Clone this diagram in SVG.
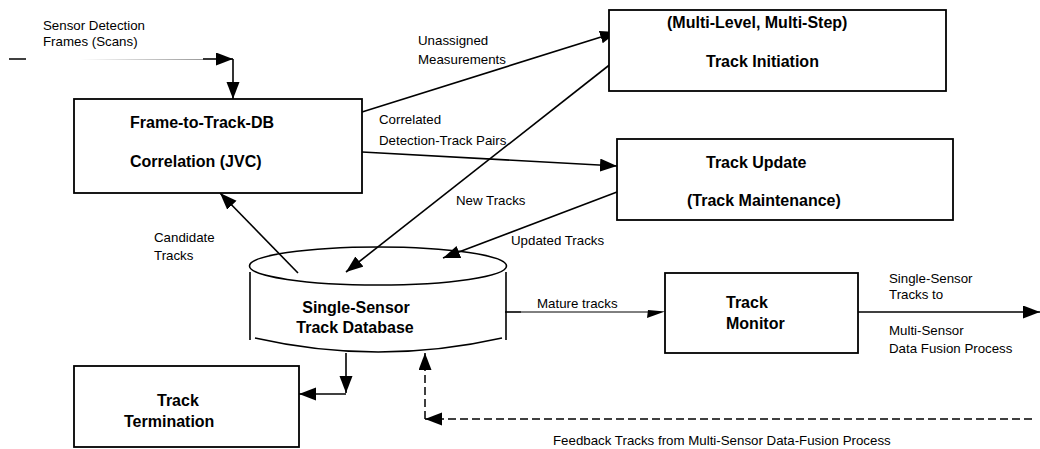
<svg xmlns="http://www.w3.org/2000/svg" width="1040" height="449" viewBox="0 0 1040 449">
  <style>
    .box { fill: #fff; stroke: #000; stroke-width: 1.8; }
    .title { font-family: "Liberation Sans", Arial, sans-serif; font-size: 16px; font-weight: bold; fill: #000; }
    .label { font-family: "Liberation Sans", Arial, sans-serif; font-size: 13.3px; fill: #000; }
    .flow { fill: none; stroke: #000; stroke-width: 1.6; }
    .thin { fill: none; stroke: #000; stroke-width: 1; }
    .dash { fill: none; stroke: #000; stroke-width: 1.5; stroke-dasharray: 8 4; }
  </style>
  <defs>
    <marker id="arrow" markerUnits="userSpaceOnUse" markerWidth="18" markerHeight="14" refX="17" refY="6.5" orient="auto">
      <path d="M0,0 L17,6.5 L0,13 z" fill="#000"/>
    </marker>
    <linearGradient id="fade" gradientUnits="userSpaceOnUse" x1="80" y1="0" x2="204" y2="0">
      <stop offset="0" stop-color="#fff"/>
      <stop offset="1" stop-color="#999"/>
    </linearGradient>
  </defs>

  <rect width="1040" height="449" fill="#fff"/>

  <!-- connectors -->
  <g id="connectors">
    <!-- sensor frames input -->
    <line x1="9" y1="59" x2="26" y2="59" stroke="#000" stroke-width="1.5"/>
    <line x1="80" y1="59.5" x2="203" y2="59.5" stroke="url(#fade)" stroke-width="1"/>
    <line x1="203" y1="59" x2="233" y2="59" class="flow" marker-end="url(#arrow)"/>
    <line x1="233" y1="59" x2="233" y2="99" class="flow" marker-end="url(#arrow)"/>
    <!-- unassigned measurements -->
    <line x1="362" y1="112" x2="617" y2="32" class="flow" marker-end="url(#arrow)"/>
    <!-- correlated pairs -->
    <line x1="362" y1="152" x2="617" y2="166" class="flow" marker-end="url(#arrow)"/>
    <!-- new tracks -->
    <line x1="617" y1="59" x2="346" y2="272" class="flow" marker-end="url(#arrow)"/>
    <!-- updated tracks -->
    <line x1="617" y1="192" x2="443" y2="258" class="flow" marker-end="url(#arrow)"/>
    <!-- candidate tracks -->
    <line x1="298" y1="273" x2="220" y2="193" class="flow" marker-end="url(#arrow)"/>
    <!-- mature tracks -->
    <line x1="505" y1="312" x2="521" y2="312" class="flow"/>
    <line x1="521" y1="312" x2="650" y2="312" class="thin"/>
    <polygon points="648,310 665,311.5 647,318" fill="#000"/>
    <!-- output to multi-sensor fusion -->
    <line x1="858" y1="312" x2="1040" y2="312" class="flow" marker-end="url(#arrow)"/>
    <!-- termination -->
    <line x1="346" y1="353" x2="346" y2="393" class="flow" marker-end="url(#arrow)"/>
    <line x1="346" y1="394" x2="299" y2="394" class="flow" marker-end="url(#arrow)"/>
    <!-- feedback tracks -->
    <line x1="1032" y1="419" x2="425" y2="419" class="dash" marker-end="url(#arrow)"/>
    <line x1="425" y1="419" x2="425" y2="353" class="dash" marker-end="url(#arrow)"/>

    <!-- connector labels -->
    <text class="label" x="43" y="30">Sensor Detection</text>
    <text class="label" x="43" y="46">Frames (Scans)</text>
    <text class="label" x="418" y="45">Unassigned</text>
    <text class="label" x="418" y="64">Measurements</text>
    <text class="label" x="379" y="124">Correlated</text>
    <text class="label" x="379" y="145">Detection-Track Pairs</text>
    <text class="label" x="456" y="205">New Tracks</text>
    <text class="label" x="511" y="245">Updated Tracks</text>
    <text class="label" x="154" y="242">Candidate</text>
    <text class="label" x="154" y="260">Tracks</text>
    <text class="label" x="537" y="308">Mature tracks</text>
    <text class="label" x="889" y="283">Single-Sensor</text>
    <text class="label" x="889" y="299">Tracks to</text>
    <text class="label" x="889" y="335">Multi-Sensor</text>
    <text class="label" x="889" y="353">Data Fusion Process</text>
    <text class="label" x="553" y="445">Feedback Tracks from Multi-Sensor Data-Fusion Process</text>
  </g>

  <g id="correlation">
    <rect class="box" x="74" y="99" width="288" height="94"/>
    <text class="title" x="130" y="128">Frame-to-Track-DB</text>
    <text class="title" x="130" y="167">Correlation (JVC)</text>
  </g>

  <g id="initiation">
    <rect class="box" x="609" y="10" width="337" height="81"/>
    <text class="title" x="667" y="28">(Multi-Level, Multi-Step)</text>
    <text class="title" x="706" y="67">Track Initiation</text>
  </g>

  <g id="update">
    <rect class="box" x="617" y="139" width="336" height="81"/>
    <text class="title" x="706" y="168">Track Update</text>
    <text class="title" x="687" y="206">(Track Maintenance)</text>
  </g>

  <g id="database">
    <ellipse cx="378" cy="266" rx="128.5" ry="19" fill="none" stroke="#000" stroke-width="1.6"/>
    <line x1="250" y1="272" x2="250" y2="340" stroke="#000" stroke-width="1.6"/>
    <line x1="506" y1="272" x2="506" y2="340" stroke="#000" stroke-width="1.6"/>
    <path d="M255,338 Q378,366 502,338" fill="none" stroke="#000" stroke-width="1.6"/>
    <text class="title" x="356" y="313" text-anchor="middle">Single-Sensor</text>
    <text class="title" x="355" y="333" text-anchor="middle">Track Database</text>
  </g>

  <g id="monitor">
    <rect class="box" x="665" y="273" width="193" height="80"/>
    <text class="title" x="726" y="308">Track</text>
    <text class="title" x="726" y="329">Monitor</text>
  </g>

  <g id="termination">
    <rect class="box" x="74" y="366" width="225" height="81"/>
    <text class="title" x="157" y="406">Track</text>
    <text class="title" x="124" y="427">Termination</text>
  </g>
</svg>
